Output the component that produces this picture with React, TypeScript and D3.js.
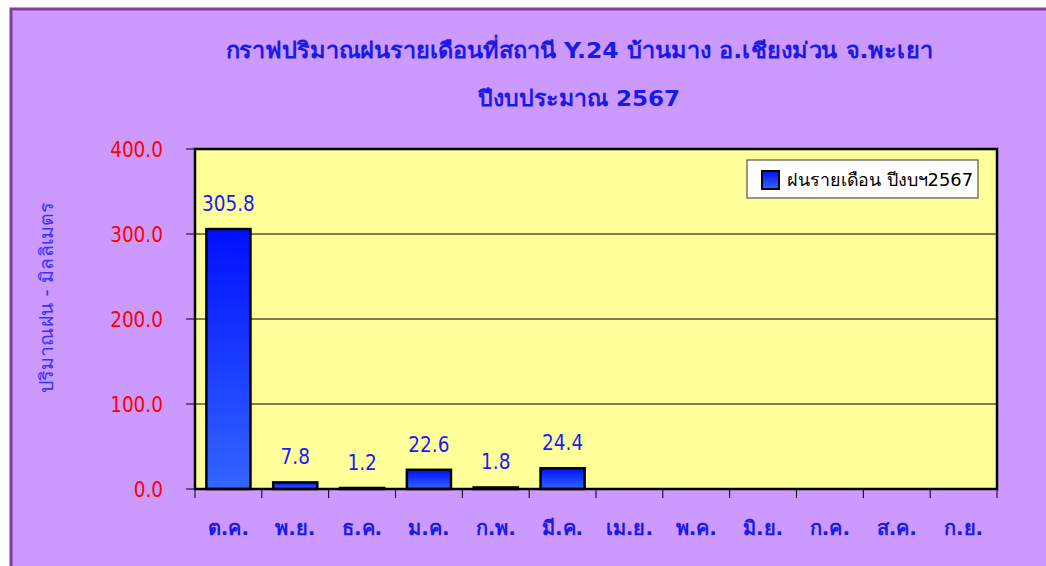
import * as d3 from 'd3';

const months = ['ต.ค.', 'พ.ย.', 'ธ.ค.', 'ม.ค.', 'ก.พ.', 'มี.ค.', 'เม.ย.', 'พ.ค.', 'มิ.ย.', 'ก.ค.', 'ส.ค.', 'ก.ย.'];
const rainfall: (number | null)[] = [305.8, 7.8, 1.2, 22.6, 1.8, 24.4, null, null, null, null, null, null];
const yTicks = [0, 100, 200, 300, 400];

const titleLine1 = 'กราฟปริมาณฝนรายเดือนที่สถานี Y.24 บ้านมาง อ.เชียงม่วน จ.พะเยา';
const titleLine2 = 'ปีงบประมาณ 2567';
const yTitle = 'ปริมาณฝน - มิลลิเมตร';
const legendLabel = 'ฝนรายเดือน ปีงบฯ2567';

const W = 1046;
const H = 566;
const plot = { left: 195, right: 997, top: 149, bottom: 489 };
const font = "Tahoma, 'DejaVu Sans', 'Noto Sans', sans-serif";
// DejaVu is wider than Tahoma, squeeze numbers a bit
const squeeze = 0.88;

export default function App() {
  const x = d3.scaleBand<string>().domain(months).range([plot.left, plot.right]).paddingInner(0.34).paddingOuter(0.17);
  const y = d3.scaleLinear().domain([0, 400]).range([plot.bottom, plot.top]);
  const boundaries = d3.range(months.length + 1).map((i) => plot.left + i * (plot.right - plot.left) / months.length);

  return (
    <svg width={W} height={H} style={{ position: 'absolute', left: 0, top: 0 }} fontFamily={font}>
      <defs>
        <linearGradient id="barGrad" x1="0" y1="0" x2="0" y2="1">
          <stop offset="0%" stopColor="#0010ff" />
          <stop offset="100%" stopColor="#3366ff" />
        </linearGradient>
      </defs>
      <rect x={0} y={0} width={W} height={H} fill="#ffffff" />
      <rect x={11} y={9} width={W + 20} height={H + 20} fill="#cc99ff" stroke="#7f3f9f" strokeWidth={3} />

      <text x={579} y={58} textAnchor="middle" fill="#1a1ae6" fontWeight="bold" fontSize={22} textLength={707} lengthAdjust="spacingAndGlyphs">
        {titleLine1}
      </text>
      <text x={579} y={106} textAnchor="middle" fill="#1a1ae6" fontWeight="bold" fontSize={22} textLength={202} lengthAdjust="spacingAndGlyphs">
        {titleLine2}
      </text>

      <rect x={plot.left} y={plot.top} width={plot.right - plot.left} height={plot.bottom - plot.top} fill="#ffff99" />
      {yTicks.slice(1, -1).map((t) => (
        <line key={t} x1={plot.left} x2={plot.right} y1={y(t)} y2={y(t)} stroke="#000" strokeWidth={1} />
      ))}

      {months.map((m, i) => {
        const v = rainfall[i];
        if (v == null) return null;
        const bx = x(m) ?? 0;
        return (
          <g key={m}>
            <rect x={bx} y={y(v)} width={x.bandwidth()} height={Math.max(0, plot.bottom - y(v))} fill="url(#barGrad)" stroke="#000" strokeWidth={2.5} />
            <text transform={`translate(${bx + x.bandwidth() / 2}, ${y(v) - 18}) scale(${squeeze}, 1)`} textAnchor="middle" fill="#1a1aff" fontSize={21}>
              {v.toFixed(1)}
            </text>
          </g>
        );
      })}

      <rect x={plot.left} y={plot.top} width={plot.right - plot.left} height={plot.bottom - plot.top} fill="none" stroke="#000" strokeWidth={2.5} />

      {yTicks.map((t) => (
        <g key={t}>
          <line x1={plot.left - 9} x2={plot.left} y1={y(t)} y2={y(t)} stroke="#000" strokeWidth={1} />
          <text transform={`translate(163, ${y(t) + 8}) scale(${squeeze}, 1)`} textAnchor="end" fill="#ff0000" fontSize={21}>
            {t.toFixed(1)}
          </text>
        </g>
      ))}

      {boundaries.map((b, i) => (
        <line key={i} x1={b} x2={b} y1={plot.bottom} y2={plot.bottom + 9} stroke="#000" strokeWidth={1} />
      ))}
      {months.map((m) => (
        <text key={m} x={(x(m) ?? 0) + x.bandwidth() / 2} y={535} textAnchor="middle" fill="#1a1ae6" fontWeight="bold" fontSize={20}>
          {m}
        </text>
      ))}

      <text transform={`translate(53, 298) rotate(-90)`} textAnchor="middle" fill="#3333ff" fontSize={19} textLength={190} lengthAdjust="spacingAndGlyphs">
        {yTitle}
      </text>

      <g>
        <rect x={747} y={160} width={231} height={38} fill="#ffffff" stroke="#333" strokeWidth={1} />
        <rect x={762} y={171} width={17} height={18} fill="url(#barGrad)" stroke="#000" strokeWidth={2} />
        <text x={787} y={186} fill="#000" fontSize={18} textLength={186} lengthAdjust="spacingAndGlyphs">
          {legendLabel}
        </text>
      </g>
    </svg>
  );
}
